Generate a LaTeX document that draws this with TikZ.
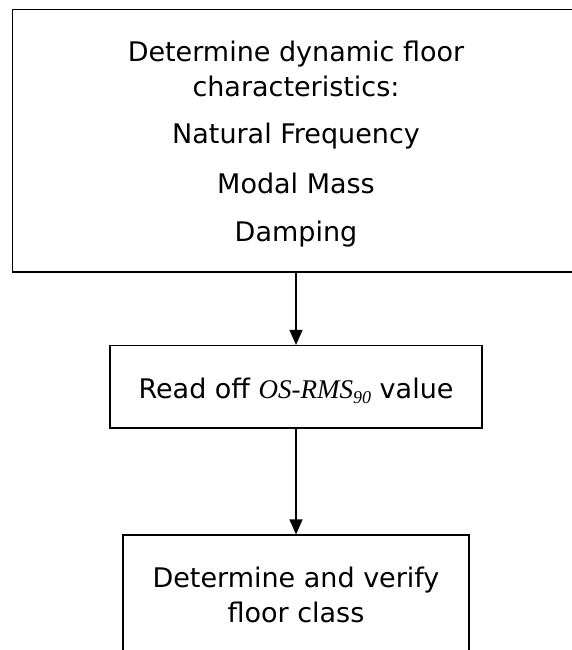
\documentclass[tikz,border=0pt]{standalone}
\usepackage{fontspec}
\setmainfont{DejaVu Sans}
\newfontfamily\tnr{Liberation Serif}
\usetikzlibrary{arrows.meta}
\begin{document}
\begin{tikzpicture}[x=1pt,y=-1pt,
  boxstyle/.style={draw=black,line width=1.2pt,rectangle,inner sep=0pt},
  txt/.style={anchor=base,inner sep=0pt,font=\fontsize{27}{32}\selectfont},
  conn/.style={draw=black,line width=1.2pt,-{Triangle[length=15pt,width=13pt]}}]
\useasboundingbox (0,0) rectangle (571,650);
\node[boxstyle,minimum width=567pt,minimum height=262.5pt] (top) at (296,140.75) {};
\node[txt] (t1) at (296,62) {Determine dynamic floor};
\node[txt] (t2) at (296,97) {characteristics:};
\node[txt] (t3) at (296,143) {Natural Frequency};
\node[txt] (t4) at (296,193) {Modal Mass};
\node[txt] (t5) at (296,241) {Damping};
\node[boxstyle,minimum width=372pt,minimum height=82.5pt] (read) at (296,386.75) {};
\node[txt] (r1) at (296,398) {Read off {\tnr\itshape OS-RMS\raisebox{-0.2em}{\fontsize{18}{18}\selectfont 90}} value};
\node[boxstyle,minimum width=346pt,minimum height=165pt] (cls) at (296,617.5) {};
\node[txt] (c1) at (296,587) {Determine and verify};
\node[txt] (c2) at (296,622) {floor class};
\draw[conn] (top.south) -- (read.north);
\draw[conn] (read.south) -- (cls.north);
\end{tikzpicture}
\end{document}
